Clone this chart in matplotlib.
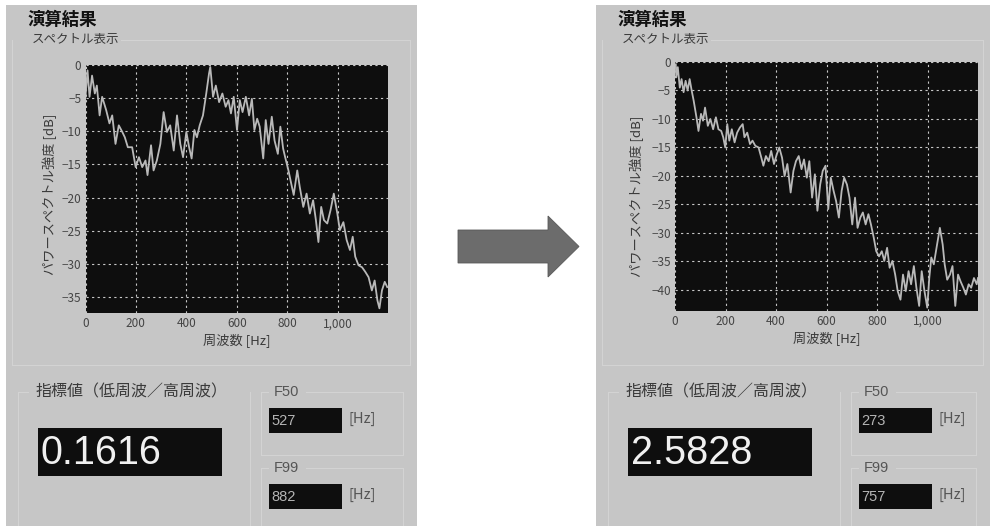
import matplotlib
matplotlib.use("Agg")
import matplotlib.pyplot as plt
from matplotlib.patches import Rectangle, Polygon

JP = ['Noto Sans CJK JP', 'DejaVu Sans']
plt.rcParams['font.family'] = JP

# Spectrum before processing (frequency [Hz], power [dB])
freq_before = [0, 8, 16, 26, 37, 45, 56, 66, 82, 95, 106, 119, 132, 146, 156, 168,
               185, 199, 212, 225, 238, 246, 260, 270, 283, 297, 310, 323, 336, 350,
               363, 376, 387, 400, 411, 421, 432, 442, 453, 466, 479, 490, 495, 506,
               517, 530, 543, 556, 567, 577, 588, 601, 612, 623, 636, 649, 660, 670,
               681, 691, 705, 715, 726, 739, 750, 763, 773, 784, 792, 805, 819, 826,
               840, 850, 864, 877, 890, 903, 914, 924, 935, 946, 959, 972, 985, 999,
               1009, 1023, 1036, 1049, 1060, 1070, 1083, 1097, 1110, 1123, 1136, 1147,
               1158, 1166, 1176, 1187, 1197]
power_before = [-4.8, -0.8, -4.8, -1.6, -4.3, -3.1, -7.6, -4.8, -6.8, -8.8, -7.6, -11.9,
                -9.1, -10.1, -10.9, -12.4, -12.4, -15.4, -13.9, -15.4, -14.4, -16.6,
                -12.1, -15.9, -14.4, -11.9, -7.1, -10.1, -9.1, -12.9, -7.6, -11.9,
                -13.9, -10.1, -12.4, -14.1, -9.8, -10.9, -9.1, -7.6, -4.3, -1.3, -0.3,
                -4.8, -3.1, -5.6, -4.3, -6.3, -5.3, -7.3, -4.8, -9.8, -5.3, -7.1, -4.8,
                -7.6, -5.1, -9.8, -8.1, -9.3, -14.1, -8.3, -11.9, -7.8, -11.4, -13.4,
                -9.3, -12.6, -13.9, -15.9, -18.4, -19.6, -15.9, -18.4, -21.4, -19.4,
                -22.4, -20.4, -23.4, -26.7, -21.4, -23.4, -23.9, -21.9, -19.4, -22.4,
                -24.9, -23.7, -26.4, -27.9, -25.9, -28.9, -30.2, -30.5, -31.2, -32.0,
                -34.0, -32.5, -35.5, -36.7, -34.0, -32.7, -33.5]

# Spectrum after processing
freq_after = [3, 5, 11, 19, 26, 34, 42, 50, 58, 66, 74, 85, 93, 103, 111, 119, 130, 140,
              151, 162, 172, 183, 191, 199, 207, 215, 225, 236, 246, 257, 268, 275, 286,
              297, 307, 318, 331, 342, 350, 360, 371, 381, 392, 403, 413, 424, 434, 445,
              458, 469, 479, 490, 501, 511, 522, 532, 543, 554, 564, 575, 585, 596, 607,
              617, 628, 638, 649, 660, 670, 681, 691, 702, 713, 723, 734, 744, 755, 766,
              776, 787, 797, 808, 819, 829, 840, 850, 861, 872, 882, 893, 903, 914, 925,
              935, 946, 956, 967, 977, 988, 999, 1007, 1015, 1025, 1038, 1049, 1060,
              1068, 1078, 1089, 1099, 1110, 1121, 1131, 1142, 1152, 1163, 1173, 1184,
              1195, 1200]
power_after = [-0.4, -2.7, -0.9, -4.5, -3.0, -5.3, -3.3, -5.0, -3.0, -5.0, -6.8, -9.7,
               -12.1, -9.1, -10.3, -8.0, -11.2, -10.0, -11.8, -9.7, -11.8, -12.1, -13.2,
               -15.0, -10.9, -13.8, -11.8, -14.1, -12.4, -11.5, -10.9, -13.2, -12.4,
               -14.4, -13.8, -14.7, -15.0, -16.8, -18.2, -16.5, -17.4, -15.6, -17.9,
               -16.2, -15.0, -16.8, -20.0, -17.9, -22.9, -19.1, -17.4, -16.5, -18.8,
               -17.1, -20.3, -17.4, -23.8, -19.7, -26.1, -21.5, -19.1, -18.2, -25.8,
               -20.3, -22.6, -24.4, -27.3, -22.6, -20.3, -21.5, -23.8, -28.5, -23.8,
               -29.1, -27.3, -26.4, -28.5, -26.7, -28.5, -30.8, -33.2, -34.1, -33.2,
               -34.9, -32.6, -36.1, -34.9, -37.3, -40.2, -41.7, -37.3, -40.2, -36.7,
               -39.0, -35.8, -39.6, -42.8, -36.7, -40.2, -43.1, -37.9, -34.3, -35.5,
               -32.0, -29.1, -32.0, -35.5, -38.2, -37.3, -35.8, -42.8, -37.3, -38.5,
               -39.6, -40.8, -39.0, -39.6, -37.9, -39.0, -37.9]

x_ticks = [0, 200, 400, 600, 800, 1000]
x_tick_labels = ['0', '200', '400', '600', '800', '1,000']
y_ticks_before = [0, -5, -10, -15, -20, -25, -30, -35]
y_ticks_after = [0, -5, -10, -15, -20, -25, -30, -35, -40]

index_values = ['0.1616', '2.5828']
f50_values = [527, 273]
f99_values = [882, 757]

title_text = '演算結果'
group_text = 'スペクトル表示'
index_label = '指標値（低周波／高周波）'
ylabel_text = 'パワースペクトル強度 [dB]'
xlabel_text = '周波数 [Hz]'

W, H = 993, 526
BG = '#c6c6c6'
PLOT_BG = '#0e0e0e'
TEXT = '#3a3a3a'

fig = plt.figure(figsize=(W / 100, H / 100), dpi=100)
fig.patch.set_facecolor('white')

# Full-figure canvas in pixel units for the window chrome
ui = fig.add_axes([0, 0, 1, 1], zorder=0)
ui.set_xlim(0, W)
ui.set_ylim(H, 0)
ui.axis('off')


def etched(x0, y0, x1, y1):
    ui.plot([x0, x1], [y0, y1], color='#d3d3d3', lw=0.8, zorder=1)


def panel(ox, width, idx):
    ui.add_patch(Rectangle((ox, 5), width, H - 5, facecolor=BG, edgecolor='none', zorder=0))
    ui.text(ox + 21, 20, title_text, fontsize=12.5, fontweight='bold', color='#111111',
            va='center', ha='left', family=JP, zorder=3)
    ui.text(ox + 26, 39, group_text, fontsize=9, color=TEXT, va='center', ha='left',
            family=JP, zorder=3)
    # group frames
    etched(ox + 115, 40, ox + width - 7, 40)
    etched(ox + 6, 40, ox + 6, 365)
    etched(ox + width - 7, 40, ox + width - 7, 365)
    etched(ox + 6, 365, ox + width - 7, 365)
    etched(ox + 12, 392, ox + 22, 392)
    etched(ox + 12, 392, ox + 12, H)
    etched(ox + 244, 392, ox + 244, H)
    etched(ox + 255, 392, ox + 262, 392)
    etched(ox + 300, 392, ox + width - 14, 392)
    etched(ox + 255, 392, ox + 255, 455)
    etched(ox + width - 14, 392, ox + width - 14, 455)
    etched(ox + 255, 455, ox + width - 14, 455)
    etched(ox + 255, 468, ox + 262, 468)
    etched(ox + 300, 468, ox + width - 14, 468)
    etched(ox + 255, 468, ox + 255, H)
    etched(ox + width - 14, 468, ox + width - 14, H)

    ui.text(ox + 29, 392, index_label, fontsize=11.5, color=TEXT, va='center', ha='left',
            family=JP, zorder=3)
    ui.add_patch(Rectangle((ox + 32, 428), 184, 48, facecolor=PLOT_BG, edgecolor='none', zorder=2))
    ui.text(ox + 35, 453, index_values[idx], fontsize=28.5, color='#f0f0f0', va='center',
            ha='left', family='Liberation Sans', zorder=3)

    for ytop, lab, val in ((392, 'F50', f50_values[idx]), (468, 'F99', f99_values[idx])):
        ui.text(ox + 268, ytop, lab, fontsize=10.5, color='#555555', va='center', ha='left',
                family='Liberation Sans', zorder=3)
        ui.add_patch(Rectangle((ox + 263, ytop + 16), 73, 25, facecolor=PLOT_BG,
                               edgecolor='none', zorder=2))
        ui.text(ox + 265, ytop + 29, str(val), fontsize=10.5, color='#b5b5b5', va='center',
                ha='left', family='Liberation Sans', zorder=3)
        ui.text(ox + 342, ytop + 27, '[Hz]', fontsize=10.5, color='#555555', va='center',
                ha='left', family=JP, zorder=3)


panel(6, 411, 0)
panel(596, 394, 1)

# Arrow between the two screens
arrow = Polygon([(458, 230), (548, 230), (548, 216), (579, 246.5), (548, 277),
                 (548, 263), (458, 263)], closed=True, facecolor='#6c6c6c',
                edgecolor='#585858', lw=0.6, zorder=2)
ui.add_patch(arrow)


def spectrum_axes(rect, freq, power, yticks, ymin):
    ax = fig.add_axes(rect, zorder=2)
    ax.set_facecolor(PLOT_BG)
    ax.plot(freq, power, color='#b9b9b9', lw=1.3, zorder=3)
    ax.set_xlim(0, 1200)
    ax.set_ylim(ymin, 0)
    ax.set_xticks(x_ticks)
    ax.set_xticklabels(x_tick_labels)
    ax.set_yticks(yticks)
    ax.set_yticklabels([str(t) if t == 0 else '\u2212' + str(-t) for t in yticks])
    ax.grid(True, color='#c8c8c8', lw=0.8, linestyle=(0, (2, 3)))
    ax.tick_params(length=0, pad=3, labelsize=8.5, labelcolor='#444444')
    for s in ax.spines.values():
        s.set_visible(False)
    ax.set_xlabel(xlabel_text, fontsize=9.5, color=TEXT, va='center')
    ax.xaxis.set_label_coords(0.5, -0.11)
    ax.set_ylabel(ylabel_text, fontsize=9.5, color=TEXT, va='center')
    return ax


axL = spectrum_axes([85.5 / W, (H - 313) / H, 302.5 / W, 248 / H],
                    freq_before, power_before, y_ticks_before, -37.4)
axL.yaxis.set_label_coords((50 - 85.5) / 302.5, 0.48)

axR = spectrum_axes([675 / W, (H - 310.5) / H, 303 / W, 248.5 / H],
                    freq_after, power_after, y_ticks_after, -43.6)
axR.yaxis.set_label_coords((637 - 675) / 303, 0.46)

fig.savefig('out.png', dpi=100, facecolor='white')
